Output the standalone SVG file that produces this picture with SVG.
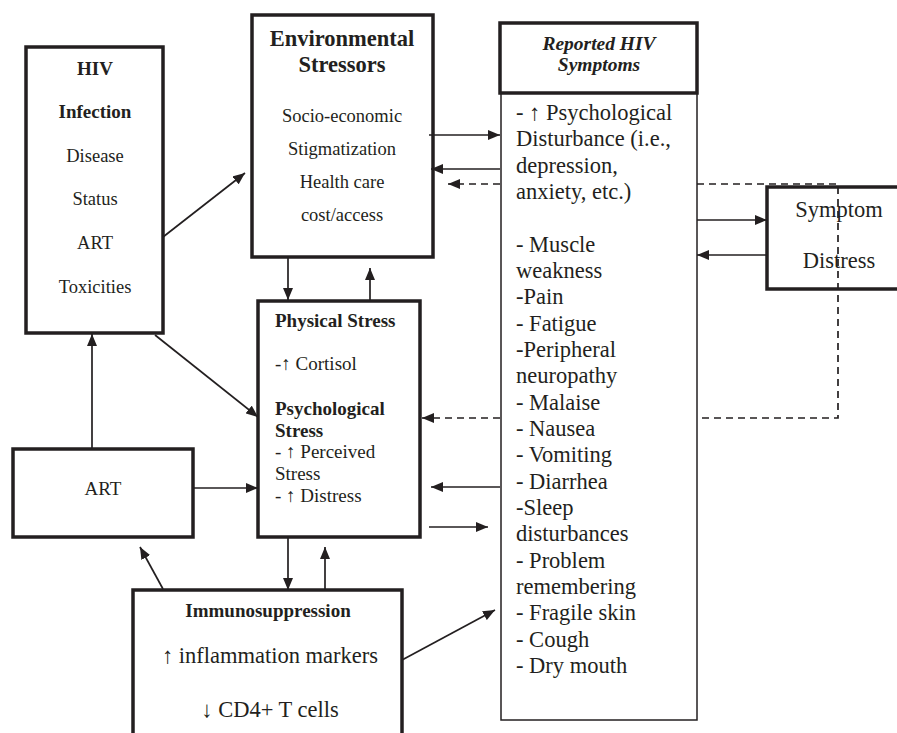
<svg xmlns="http://www.w3.org/2000/svg" width="897" height="733" viewBox="0 0 897 733" font-family="'Liberation Serif', 'Times New Roman', serif">
<style>
text{font-family:'Liberation Serif','Times New Roman',serif;fill:#231f20}
.box{fill:#fff;stroke:#231f20;stroke-width:3.5}
.thin{fill:#fff;stroke:#231f20;stroke-width:1.5}
.c{text-anchor:middle}
.b{font-weight:bold}
.s18{font-size:18.5px}
.s19{font-size:19px}
.s22{font-size:22.5px}
.ln{stroke:#231f20;stroke-width:1.7;fill:none}
.dash{stroke:#231f20;stroke-width:1.7;fill:none;stroke-dasharray:7 5}
</style>
<defs>
<marker id="ah" markerUnits="userSpaceOnUse" markerWidth="12" markerHeight="10" refX="12" refY="5" orient="auto">
<path d="M0,0 L12,5 L0,10 z" fill="#231f20"/>
</marker>
</defs>

<g id="hiv-infection">
<rect class="box" x="26" y="47" width="137" height="286"/>
<text class="c b s19" x="95" y="75">HIV</text>
<text class="c b s19" x="95" y="118">Infection</text>
<text class="c s18" x="95" y="162">Disease</text>
<text class="c s18" x="95" y="205">Status</text>
<text class="c s18" x="95" y="249">ART</text>
<text class="c s18" x="95" y="293">Toxicities</text>
</g>

<g id="environmental-stressors">
<rect class="box" x="252" y="15" width="181" height="242"/>
<text class="c b" style="font-size:22.5px" x="342" y="46">Environmental</text>
<text class="c b" style="font-size:22.5px" x="342" y="72">Stressors</text>
<text class="c s18" x="342" y="122">Socio-economic</text>
<text class="c s18" x="342" y="155">Stigmatization</text>
<text class="c s18" x="342" y="188">Health care</text>
<text class="c s18" x="342" y="221">cost/access</text>
</g>

<g id="reported-symptoms">
<rect class="thin" x="501" y="93" width="196" height="627"/>
<rect class="box" x="500" y="23" width="197" height="70"/>
<text class="c b" style="font-style:italic;font-size:19.5px" x="599" y="50">Reported HIV</text>
<text class="c b" style="font-style:italic;font-size:19.5px" x="599" y="71">Symptoms</text>
<g class="s22">
<text x="516" y="120">- ↑ Psychological</text>
<text x="516" y="146.3">Disturbance (i.e.,</text>
<text x="516" y="172.6">depression,</text>
<text x="516" y="199">anxiety, etc.)</text>
<text x="516" y="251.6">- Muscle</text>
<text x="516" y="278">weakness</text>
<text x="516" y="304.3">-Pain</text>
<text x="516" y="330.6">- Fatigue</text>
<text x="516" y="357">-Peripheral</text>
<text x="516" y="383.3">neuropathy</text>
<text x="516" y="409.6">- Malaise</text>
<text x="516" y="436">- Nausea</text>
<text x="516" y="462.3">- Vomiting</text>
<text x="516" y="488.6">- Diarrhea</text>
<text x="516" y="515">-Sleep</text>
<text x="516" y="541.3">disturbances</text>
<text x="516" y="567.6">- Problem</text>
<text x="516" y="594">remembering</text>
<text x="516" y="620.3">- Fragile skin</text>
<text x="516" y="646.6">- Cough</text>
<text x="516" y="673">- Dry mouth</text>
</g>
</g>

<g id="symptom-distress">
<rect class="box" x="767" y="187" width="140" height="102"/>
<text class="c s22" x="839" y="217">Symptom</text>
<text class="c s22" x="839" y="268">Distress</text>
</g>

<g id="stress">
<rect class="box" x="258" y="301" width="162" height="236"/>
<text class="b s19" x="275" y="327">Physical Stress</text>
<text class="s19" x="275" y="370">-↑ Cortisol</text>
<text class="b s19" x="275" y="415">Psychological</text>
<text class="b s19" x="275" y="437">Stress</text>
<text class="s19" x="275" y="458">- ↑ Perceived</text>
<text class="s19" x="275" y="480">Stress</text>
<text class="s19" x="275" y="502">- ↑ Distress</text>
</g>

<g id="art">
<rect class="box" x="13" y="449" width="180" height="88"/>
<text class="c s19" x="103" y="495">ART</text>
</g>

<g id="immunosuppression">
<rect class="box" x="133" y="590" width="269" height="160"/>
<text class="c b s19" x="268" y="617">Immunosuppression</text>
<text class="c s22" x="270" y="663">↑ inflammation markers</text>
<text class="c s22" x="270" y="717">↓ CD4+ T cells</text>
</g>

<g id="connectors">
<line class="ln" x1="163" y1="237" x2="245" y2="173" marker-end="url(#ah)"/>
<line class="ln" x1="155" y1="335" x2="258" y2="417" marker-end="url(#ah)"/>
<line class="ln" x1="92" y1="449" x2="92" y2="334" marker-end="url(#ah)"/>
<line class="ln" x1="194" y1="488" x2="258" y2="488" marker-end="url(#ah)"/>
<line class="ln" x1="163" y1="589" x2="140" y2="547" marker-end="url(#ah)"/>
<line class="ln" x1="288" y1="257" x2="288" y2="300" marker-end="url(#ah)"/>
<line class="ln" x1="370" y1="301" x2="370" y2="268" marker-end="url(#ah)"/>
<line class="ln" x1="288" y1="537" x2="288" y2="590" marker-end="url(#ah)"/>
<line class="ln" x1="325" y1="590" x2="325" y2="547" marker-end="url(#ah)"/>
<line class="ln" x1="429" y1="135" x2="500" y2="135" marker-end="url(#ah)"/>
<line class="ln" x1="500" y1="169" x2="431" y2="169" marker-end="url(#ah)"/>
<line class="ln" x1="500" y1="487" x2="431" y2="487" marker-end="url(#ah)"/>
<line class="ln" x1="429" y1="527" x2="488" y2="527" marker-end="url(#ah)"/>
<line class="ln" x1="402" y1="660" x2="495" y2="610" marker-end="url(#ah)"/>
<line class="ln" x1="697" y1="220" x2="767" y2="220" marker-end="url(#ah)"/>
<line class="ln" x1="767" y1="255" x2="697" y2="255" marker-end="url(#ah)"/>
<path class="dash" d="M697,184 H838 V418 H697"/>
<line class="dash" x1="500" y1="184" x2="448" y2="184" marker-end="url(#ah)"/>
<line class="dash" x1="500" y1="418" x2="422" y2="418" marker-end="url(#ah)"/>
</g>
</svg>
